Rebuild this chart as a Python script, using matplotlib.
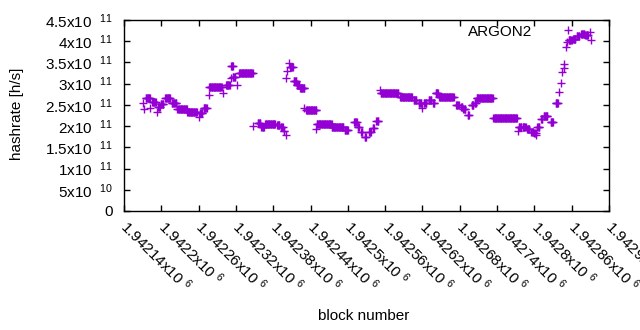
import numpy as np
import matplotlib
matplotlib.use("Agg")
import matplotlib.pyplot as plt

plt.rcParams.update(
    {
        "font.family": "Liberation Sans",
        "font.size": 11,
        "mathtext.fontset": "custom",
        "mathtext.rm": "Liberation Sans",
        "mathtext.it": "Liberation Sans",
        "mathtext.default": "rm",
    }
)

# runs of blocks with the same estimated hashrate (x1e11 h/s)
run_first = [
    1942171, 1942172, 1942175, 1942182, 1942185, 1942193, 1942195, 1942199,
    1942206, 1942217, 1942226, 1942242, 1942261, 1942262, 1942268, 1942277,
    1942277, 1942299, 1942304, 1942312, 1942312, 1942315, 1942322, 1942325,
    1942348, 1942355, 1942361, 1942367, 1942386, 1942392, 1942397, 1942401,
    1942401, 1942402, 1942405, 1942407, 1942413, 1942418, 1942423, 1942430,
    1942433, 1942449, 1942450, 1942474, 1942495, 1942510, 1942516, 1942521,
    1942527, 1942534, 1942540, 1942546, 1942552, 1942553, 1942584, 1942606,
    1942614, 1942619, 1942622, 1942630, 1942637, 1942641, 1942647, 1942674,
    1942682, 1942686, 1942693, 1942699, 1942704, 1942707, 1942734, 1942773,
    1942775, 1942781, 1942788, 1942795, 1942800, 1942803, 1942805, 1942811,
    1942815, 1942826, 1942834, 1942840, 1942843, 1942845, 1942847, 1942848,
    1942851, 1942852, 1942855, 1942862, 1942868, 1942875, 1942882, 1942889,
    1942891,
]
run_last = [
    1942171, 1942172, 1942182, 1942182, 1942191, 1942193, 1942198, 1942203,
    1942214, 1942224, 1942241, 1942257, 1942261, 1942266, 1942273, 1942277,
    1942297, 1942299, 1942310, 1942312, 1942315, 1942319, 1942322, 1942347,
    1942348, 1942359, 1942365, 1942383, 1942390, 1942395, 1942398, 1942401,
    1942401, 1942402, 1942405, 1942411, 1942417, 1942422, 1942430, 1942430,
    1942449, 1942449, 1942474, 1942493, 1942500, 1942514, 1942518, 1942523,
    1942529, 1942537, 1942542, 1942549, 1942552, 1942581, 1942603, 1942610,
    1942618, 1942619, 1942626, 1942634, 1942639, 1942645, 1942670, 1942678,
    1942684, 1942689, 1942695, 1942702, 1942706, 1942733, 1942772, 1942773,
    1942779, 1942786, 1942792, 1942798, 1942802, 1942803, 1942808, 1942813,
    1942821, 1942830, 1942838, 1942840, 1942843, 1942845, 1942847, 1942848,
    1942851, 1942852, 1942860, 1942866, 1942872, 1942880, 1942886, 1942889,
    1942891,
]
run_rate = [
    2.54, 2.40, 2.66, 2.42, 2.56, 2.34, 2.46, 2.52,
    2.66, 2.55, 2.40, 2.34, 2.22, 2.30, 2.42, 2.73,
    2.91, 2.79, 2.98, 3.14, 3.42, 3.15, 2.97, 3.24,
    2.00, 2.08, 1.99, 2.05, 2.03, 1.97, 1.89, 1.79,
    3.13, 3.31, 3.48, 3.40, 3.07, 2.97, 2.89, 2.43,
    2.38, 1.93, 2.05, 1.97, 1.91, 2.10, 1.99, 1.87,
    1.74, 1.87, 1.95, 2.13, 2.85, 2.77, 2.68, 2.62,
    2.55, 2.42, 2.54, 2.62, 2.54, 2.79, 2.68, 2.50,
    2.44, 2.40, 2.26, 2.50, 2.55, 2.66, 2.18, 1.89,
    1.99, 1.97, 1.93, 1.87, 1.83, 1.79, 1.99, 2.16,
    2.24, 2.10, 2.54, 2.81, 3.01, 3.28, 3.36, 3.47,
    3.86, 3.97, 4.02, 4.05, 4.12, 4.18, 4.15, 4.22,
    4.03,
]

xtick_vals = np.arange(1942140, 1942921, 60)
ytick_vals = np.arange(0, 4.51e11, 0.5e11)

purple = "#9400D3"

blocks = np.concatenate([np.arange(a, b + 1) for a, b in zip(run_first, run_last)])
rates = np.concatenate(
    [np.full(b - a + 1, r * 1e11) for a, b, r in zip(run_first, run_last, run_rate)]
)


def sci_label(v):
    if v == 0:
        return "0"
    exp = int(np.floor(np.log10(v)))
    mant = v / 10**exp
    return f"{mant:g}x10  $^{{{exp}}}$"


fig = plt.figure(figsize=(6.4, 3.3), dpi=100)
ax = fig.add_axes([124 / 640, 1 - 211 / 330, 485 / 640, 191 / 330])

ax.plot(blocks, rates, linestyle="none", marker="+", markersize=6,
        markeredgewidth=1.0, color=purple, label="ARGON2")

ax.set_xlim(1942140, 1942920)
ax.set_ylim(0, 4.5e11)

ax.set_yticks(ytick_vals)
ax.set_yticklabels([sci_label(v) for v in ytick_vals])
ax.set_xticks(xtick_vals)
ax.set_xticklabels([f"{v / 1e6:g}x10 $^{{6}}$" for v in xtick_vals],
                   rotation=-45, ha="left", va="center", rotation_mode="anchor")

ax.tick_params(direction="in", length=4, width=1, top=True, right=True,
               labelsize=11)
ax.tick_params(axis="x", pad=9)
ax.tick_params(axis="y", pad=8)
for spine in ax.spines.values():
    spine.set_linewidth(1)

ax.set_ylabel("hashrate [h/s]", fontsize=11)
ax.yaxis.set_label_coords((17 - 124) / 485, (211 - 114) / 191)
ax.yaxis.label.set_va("center")
ax.set_xlabel("block number", fontsize=11)
ax.xaxis.set_label_coords((364 - 124) / 485, (211 - 316) / 191)
ax.xaxis.label.set_va("center")

ax.legend(loc="center right", bbox_to_anchor=((583 - 124) / 485, (211 - 31.5) / 191),
          frameon=False, markerfirst=False, borderpad=0, borderaxespad=0,
          handlelength=2, handletextpad=1.3, fontsize=11)

plt.savefig("out.png", dpi=100)
